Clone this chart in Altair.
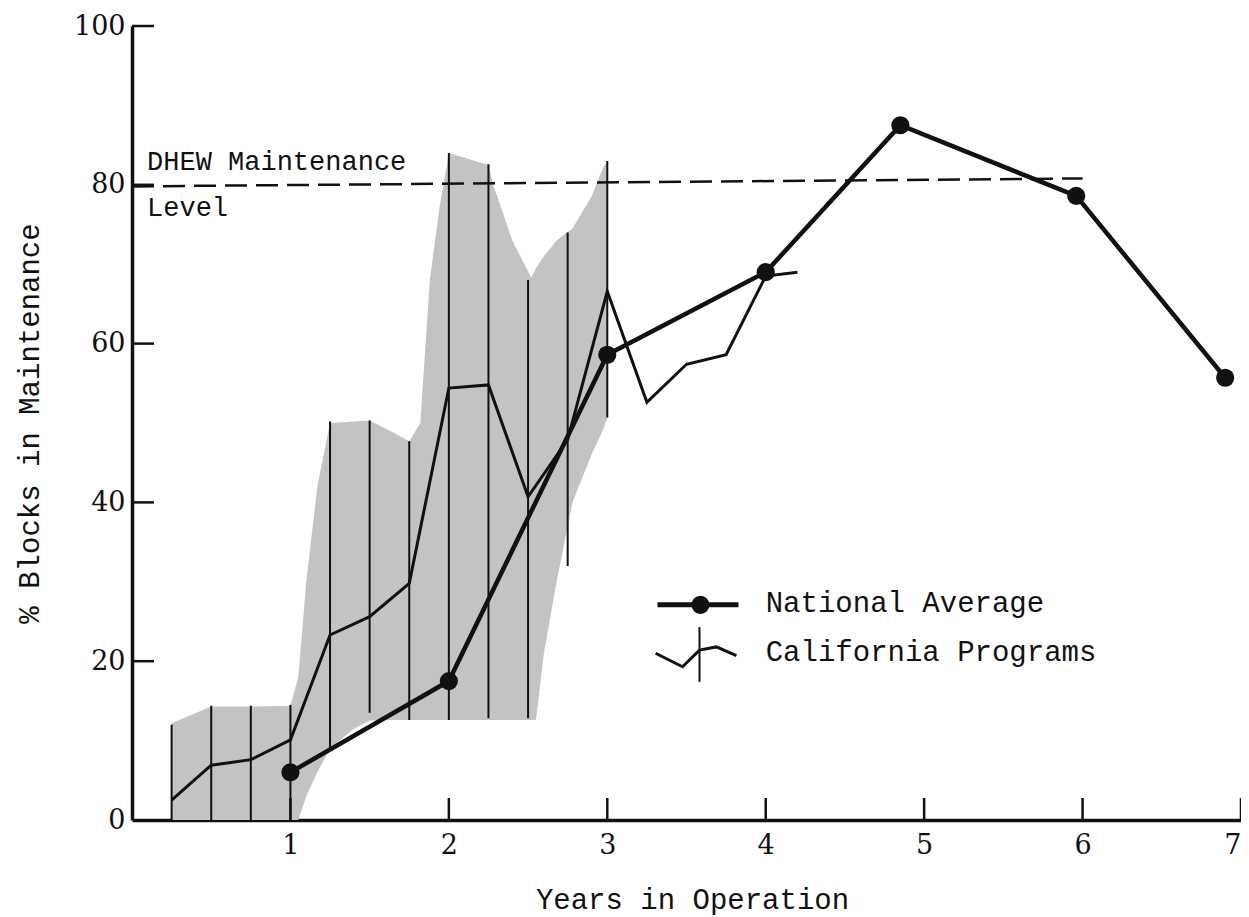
import altair as alt
import pandas as pd

# ---------------- data ----------------
nat_years = [1.0, 2.0, 3.0, 4.0, 4.85, 5.96, 6.9]
nat_vals = [6.0, 17.5, 58.6, 69.0, 87.5, 78.6, 55.7]

cal_years = [0.25, 0.5, 0.75, 1.0, 1.25, 1.5, 1.75, 2.0, 2.25, 2.5, 2.75, 3.0,
             3.25, 3.5, 3.75, 4.0, 4.2]
cal_vals = [2.5, 6.9, 7.6, 10.1, 23.3, 25.6, 29.8, 54.4, 54.8, 40.7, 47.9, 66.6,
            52.6, 57.4, 58.6, 68.5, 69.0]

range_years = [0.25, 0.5, 0.75, 1.0, 1.25, 1.5, 1.75, 2.0, 2.25, 2.5, 2.75, 3.0]
range_hi = [12.0, 14.4, 14.4, 14.5, 50.2, 50.3, 47.7, 84.0, 82.6, 68.0, 74.0, 83.0]
range_lo = [0.0, 0.0, 0.0, 0.0, 8.8, 13.5, 12.6, 12.6, 12.8, 12.8, 32.0, 50.7]

shade_x = [0.25, 0.5, 0.75, 1.0, 1.05, 1.1, 1.17, 1.25, 1.4, 1.5, 1.63, 1.75, 1.82,
           1.88, 1.94, 2.0, 2.25, 2.28, 2.4, 2.52, 2.55, 2.6, 2.68, 2.78, 2.9, 2.97, 3.0]
shade_hi = [12.2, 14.3, 14.3, 14.4, 18.0, 30.0, 42.0, 50.0, 50.2, 50.3, 49.0, 47.7, 50.0,
            68.0, 77.0, 84.0, 82.5, 80.0, 73.0, 68.3, 69.5, 71.0, 73.0, 74.5, 78.5, 82.0, 83.0]
shade_lo = [0.0, 0.0, 0.0, 0.0, 0.0, 3.0, 6.0, 9.0, 11.5, 12.5, 12.6, 12.6, 12.6,
            12.6, 12.6, 12.6, 12.6, 12.6, 12.6, 12.6, 12.6, 21.0, 30.0, 40.0, 46.0, 49.0, 50.6]

dhew_years = [0.0, 6.0]
dhew_vals = [79.8, 80.8]

x_ticks = [1, 2, 3, 4, 5, 6, 7]
y_ticks = [0, 20, 40, 60, 80, 100]

# legend glyph geometry (data units)
leg_nat_x = [3.317, 3.828]
leg_nat_y = [27.1, 27.1]
leg_nat_dot = (3.588, 27.1)
leg_cal_x = [3.305, 3.475, 3.582, 3.689, 3.815]
leg_cal_y = [21.0, 19.3, 21.4, 21.8, 20.7]
leg_cal_bar = (3.582, 17.4, 24.3)
legend_labels = ["National Average", "California Programs"]
legend_label_x = [4.0, 4.0]
legend_label_y = [27.3, 21.2]

note_labels = ["DHEW Maintenance", "Level"]
note_x = [0.095, 0.095]
note_y = [82.9, 77.1]

MONO = "Liberation Mono"
SERIF = "DejaVu Serif"
INK = "#111111"

W, H = 1109, 794
xs = alt.Scale(domain=[0, 7], nice=False, zero=False)
ys = alt.Scale(domain=[0, 100], nice=False, zero=False)

# tick length in data units
xtick_len = 22 / H * 100
ytick_len = 22 / W * 7

# ---------------- layers ----------------
shade = alt.Chart(pd.DataFrame({"x": shade_x, "hi": shade_hi, "lo": shade_lo})).mark_area(
    color="#c3c3c3", opacity=1
).encode(
    x=alt.X("x:Q", scale=xs, axis=alt.Axis(
        values=x_ticks, format="d", ticks=False, grid=False, domainColor=INK, domainWidth=3.5,
        labelFont=SERIF, labelFontSize=27, labelColor=INK, labelPadding=12,
        title="Years in Operation", titleFont=MONO, titleFontSize=29, titleFontWeight="normal",
        titleColor=INK, titleX=560, titleY=79, titleAlign="center", titleBaseline="middle",
        labelFlush=1)),
    y=alt.Y("hi:Q", scale=ys, axis=alt.Axis(
        values=y_ticks, format="d", ticks=False, grid=False, domainColor=INK, domainWidth=3.5,
        labelFont=SERIF, labelFontSize=27, labelColor=INK, labelPadding=7,
        title="% Blocks in Maintenance", titleFont=MONO, titleFontSize=29,
        titleFontWeight="normal", titleColor=INK, titleAngle=270, titleX=-103, titleY=397,
        titleAlign="center", titleBaseline="middle", labelFlush=False)),
    y2="lo:Q",
)

ranges = alt.Chart(pd.DataFrame({"x": range_years, "hi": range_hi, "lo": range_lo})).mark_rule(
    color=INK, strokeWidth=2
).encode(x=alt.X("x:Q", scale=xs), y=alt.Y("hi:Q", scale=ys), y2="lo:Q")

dhew = alt.Chart(pd.DataFrame({"x": dhew_years, "y": dhew_vals})).mark_line(
    color=INK, strokeWidth=2.5, strokeDash=[22, 9]
).encode(x=alt.X("x:Q", scale=xs), y=alt.Y("y:Q", scale=ys))

cal = alt.Chart(pd.DataFrame({"x": cal_years, "y": cal_vals})).mark_line(
    color=INK, strokeWidth=3
).encode(x=alt.X("x:Q", scale=xs), y=alt.Y("y:Q", scale=ys))

nat_df = pd.DataFrame({"x": nat_years, "y": nat_vals})
nat_line = alt.Chart(nat_df).mark_line(color=INK, strokeWidth=4.5).encode(
    x=alt.X("x:Q", scale=xs), y=alt.Y("y:Q", scale=ys))
nat_pts = alt.Chart(nat_df).mark_circle(color=INK, opacity=1, size=330).encode(
    x=alt.X("x:Q", scale=xs), y=alt.Y("y:Q", scale=ys))

xt = alt.Chart(pd.DataFrame({"x": x_ticks})).mark_rule(color=INK, strokeWidth=2.5).encode(
    x=alt.X("x:Q", scale=xs), y=alt.datum(0, scale=ys), y2=alt.datum(xtick_len))
yt = alt.Chart(pd.DataFrame({"y": [v for v in y_ticks if v > 0]})).mark_rule(
    color=INK, strokeWidth=2.5).encode(
    y=alt.Y("y:Q", scale=ys), x=alt.datum(0, scale=xs), x2=alt.datum(ytick_len))

leg_nat = alt.Chart(pd.DataFrame({"x": leg_nat_x, "y": leg_nat_y})).mark_line(
    color=INK, strokeWidth=5).encode(x=alt.X("x:Q", scale=xs), y=alt.Y("y:Q", scale=ys))
leg_dot = alt.Chart(pd.DataFrame({"x": [leg_nat_dot[0]], "y": [leg_nat_dot[1]]})).mark_circle(
    color=INK, opacity=1, size=330).encode(x=alt.X("x:Q", scale=xs), y=alt.Y("y:Q", scale=ys))
leg_cal = alt.Chart(pd.DataFrame({"x": leg_cal_x, "y": leg_cal_y})).mark_line(
    color=INK, strokeWidth=3).encode(x=alt.X("x:Q", scale=xs), y=alt.Y("y:Q", scale=ys))
leg_bar = alt.Chart(pd.DataFrame({"x": [leg_cal_bar[0]], "lo": [leg_cal_bar[1]],
                                  "hi": [leg_cal_bar[2]]})).mark_rule(
    color=INK, strokeWidth=2).encode(x=alt.X("x:Q", scale=xs), y=alt.Y("hi:Q", scale=ys), y2="lo:Q")
leg_text = alt.Chart(pd.DataFrame({"x": legend_label_x, "y": legend_label_y,
                                   "t": legend_labels})).mark_text(
    font=MONO, fontSize=29, align="left", baseline="middle", color=INK).encode(
    x=alt.X("x:Q", scale=xs), y=alt.Y("y:Q", scale=ys), text="t:N")
note_text = alt.Chart(pd.DataFrame({"x": note_x, "y": note_y, "t": note_labels})).mark_text(
    font=MONO, fontSize=27, align="left", baseline="middle", color=INK).encode(
    x=alt.X("x:Q", scale=xs), y=alt.Y("y:Q", scale=ys), text="t:N")

chart = alt.layer(
    shade, ranges, dhew, cal, nat_line, nat_pts, xt, yt,
    leg_nat, leg_dot, leg_cal, leg_bar, leg_text, note_text
).properties(
    width=W, height=H,
    autosize=alt.AutoSizeParams(type="none"),
    padding={"left": 124, "top": 18, "right": 0, "bottom": 99},
    background="white",
).configure_view(stroke=None)

chart.save("out.html", embed_options={"renderer": "svg", "actions": False})
